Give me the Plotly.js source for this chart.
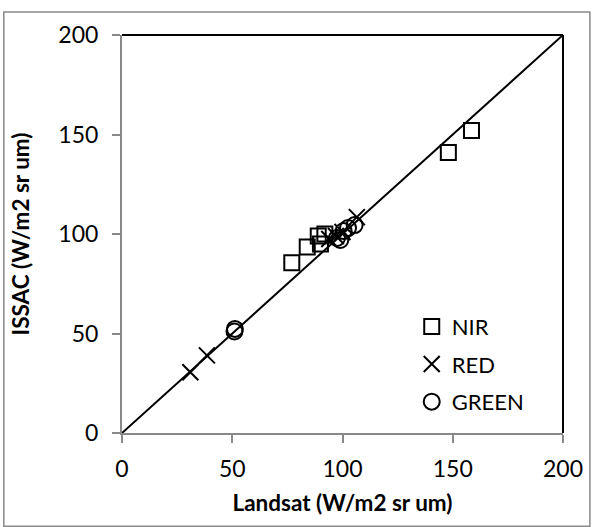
<!DOCTYPE html>
<html>
<head>
<meta charset="utf-8">
<script src="https://cdn.plot.ly/plotly-3.0.1.min.js"></script>
<style>html,body{margin:0;padding:0;background:#fff;}#chart{width:594px;height:527px;}</style>
</head>
<body>
<div id="chart"></div>
<script>
const nirX = [77, 84, 90, 89, 92, 148, 158.5];
const nirY = [85.5, 93.5, 95, 99, 100, 141, 152];
const redX = [31, 38.5, 94, 97, 100, 106.5];
const redY = [30.5, 39, 97.5, 99, 101, 108.5];
const greenX = [51, 51.2, 97.5, 99, 100.5, 102.5, 105.5];
const greenY = [51, 52.3, 98, 97, 101.5, 103, 104.5];
const oneToOne = [0, 200];
const tickVals = [0, 50, 100, 150, 200];

const font = "Lato, 'Open Sans', sans-serif";
const traces = [
  {x: oneToOne, y: oneToOne, mode: 'lines', line: {color: '#000', width: 2}, showlegend: false, hoverinfo: 'skip'},
  {x: nirX, y: nirY, mode: 'markers', name: 'NIR', legendgroup: 'a',
   marker: {symbol: 'square-open', size: 15, color: '#000', line: {width: 2, color: '#000'}}},
  {x: redX, y: redY, mode: 'markers', name: 'RED', legendgroup: 'b',
   marker: {symbol: 'x-thin-open', size: 16, color: '#000', line: {width: 2, color: '#000'}}},
  {x: greenX, y: greenY, mode: 'markers', name: 'GREEN', legendgroup: 'c',
   marker: {symbol: 'circle-open', size: 16, color: '#000', line: {width: 2, color: '#000'}}}
];
const axisCommon = {
  range: [0, 200], tickvals: tickVals, showgrid: false, zeroline: false,
  showline: true, linecolor: '#898989', linewidth: 2,
  ticks: 'outside', ticklen: 8, tickwidth: 2, tickcolor: '#898989',
  tickfont: {family: font, size: 23, color: '#000'}, fixedrange: true
};
const layout = {
  width: 594, height: 527,
  margin: {l: 122, r: 31, t: 35, b: 94},
  paper_bgcolor: '#fff', plot_bgcolor: '#fff',
  xaxis: Object.assign({}, axisCommon, {
    ticklabelstandoff: 6,
    title: {text: 'Landsat (W/m2 sr um)', font: {family: font, size: 22.5, color: '#000', weight: 'bold'}, standoff: 15}
  }),
  yaxis: Object.assign({}, axisCommon, {
    ticklabelstandoff: 9,
    title: {text: 'ISSAC (W/m2 sr um)', font: {family: font, size: 22.5, color: '#000', weight: 'bold'}, standoff: 22}
  }),
  showlegend: true,
  legend: {x: 0.657, y: 0.32, xanchor: 'left', yanchor: 'top', bgcolor: 'rgba(0,0,0,0)',
    font: {family: font, size: 22, color: '#000'}, traceorder: 'grouped', tracegroupgap: 6, itemwidth: 30},
  shapes: [
    {type: 'line', xref: 'paper', yref: 'paper', x0: 0, x1: 1, y0: 1, y1: 1, line: {color: '#000', width: 2}},
    {type: 'line', xref: 'paper', yref: 'paper', x0: 1, x1: 1, y0: 0, y1: 1, line: {color: '#000', width: 2}},
    {type: 'rect', xref: 'paper', yref: 'paper', x0: -0.268, x1: 1.061, y0: -0.234, y1: 1.058, line: {color: '#898989', width: 1.5}}
  ]
};
Plotly.newPlot('chart', traces, layout, {displayModeBar: false, staticPlot: true});
</script>
</body>
</html>
